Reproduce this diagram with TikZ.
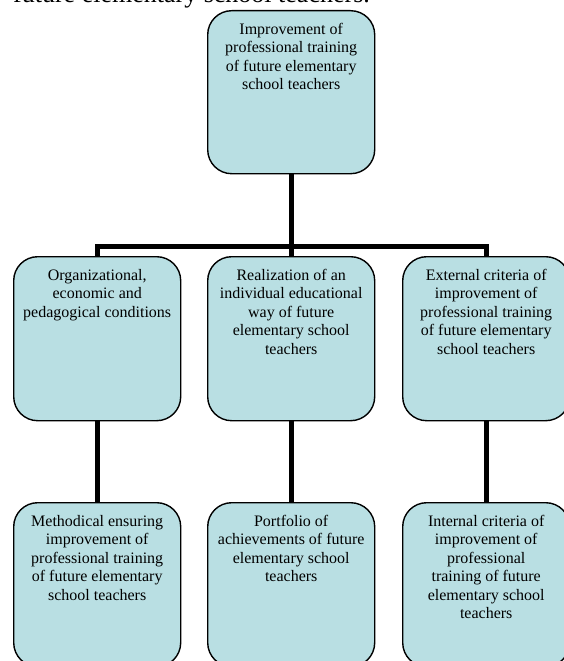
\documentclass[tikz,border=0pt]{standalone}
\usepackage{fontspec}
\setmainfont{Liberation Serif}
\usetikzlibrary{backgrounds}
\definecolor{boxfill}{RGB}{185,223,227}
\newcommand\boxtext[2]{\parbox[c][#1pt][t]{167pt}{\centering\fontsize{16}{18.4}\selectfont\vspace*{11pt}\strut#2}}
\begin{document}
\begin{tikzpicture}[x=1pt,y=-1pt,
  stagebox/.style={draw=black, line width=1.4pt, fill=boxfill, rounded corners=24pt, inner sep=0pt, anchor=north west},
  conn/.style={draw=black, line width=5pt, line join=miter}]
\useasboundingbox (0,0) rectangle (564,661);
\node[anchor=base west, inner sep=0pt, font=\fontsize{26}{30}\selectfont] (heading) at (13,3) {future elementary school teachers.};
% top
\node[stagebox] (top) at (207,10) {\boxtext{163}{Improvement of\\professional training\\of future elementary\\school teachers}};
% middle row
\node[stagebox] (m1) at (13,256) {\boxtext{164}{Organizational,\\economic and\\pedagogical conditions}};
\node[stagebox] (m2) at (207,256) {\boxtext{164}{Realization of an\\individual educational\\way of future\\elementary school\\teachers}};
\node[stagebox] (m3) at (402,256) {\boxtext{164}{External criteria of\\improvement of\\professional training\\of future elementary\\school teachers}};
% bottom row
\node[stagebox] (b1) at (13,502) {\boxtext{164}{Methodical ensuring\\improvement of\\professional training\\of future elementary\\school teachers}};
\node[stagebox] (b2) at (207,502) {\boxtext{164}{Portfolio of\\achievements of future\\elementary school\\teachers}};
\node[stagebox] (b3) at (402,502) {\boxtext{164}{Internal criteria of\\improvement of\\professional\\training of future\\elementary school\\teachers}};
\begin{pgfonlayer}{background}
\draw[conn] (top.south) -- (m2.north);
\draw[conn] (m1.north) -- ++(0,-9.5) -| (m3.north);
\draw[conn] (m1.south) -- (b1.north);
\draw[conn] (m2.south) -- (b2.north);
\draw[conn] (m3.south) -- (b3.north);
\end{pgfonlayer}
\end{tikzpicture}
\end{document}
